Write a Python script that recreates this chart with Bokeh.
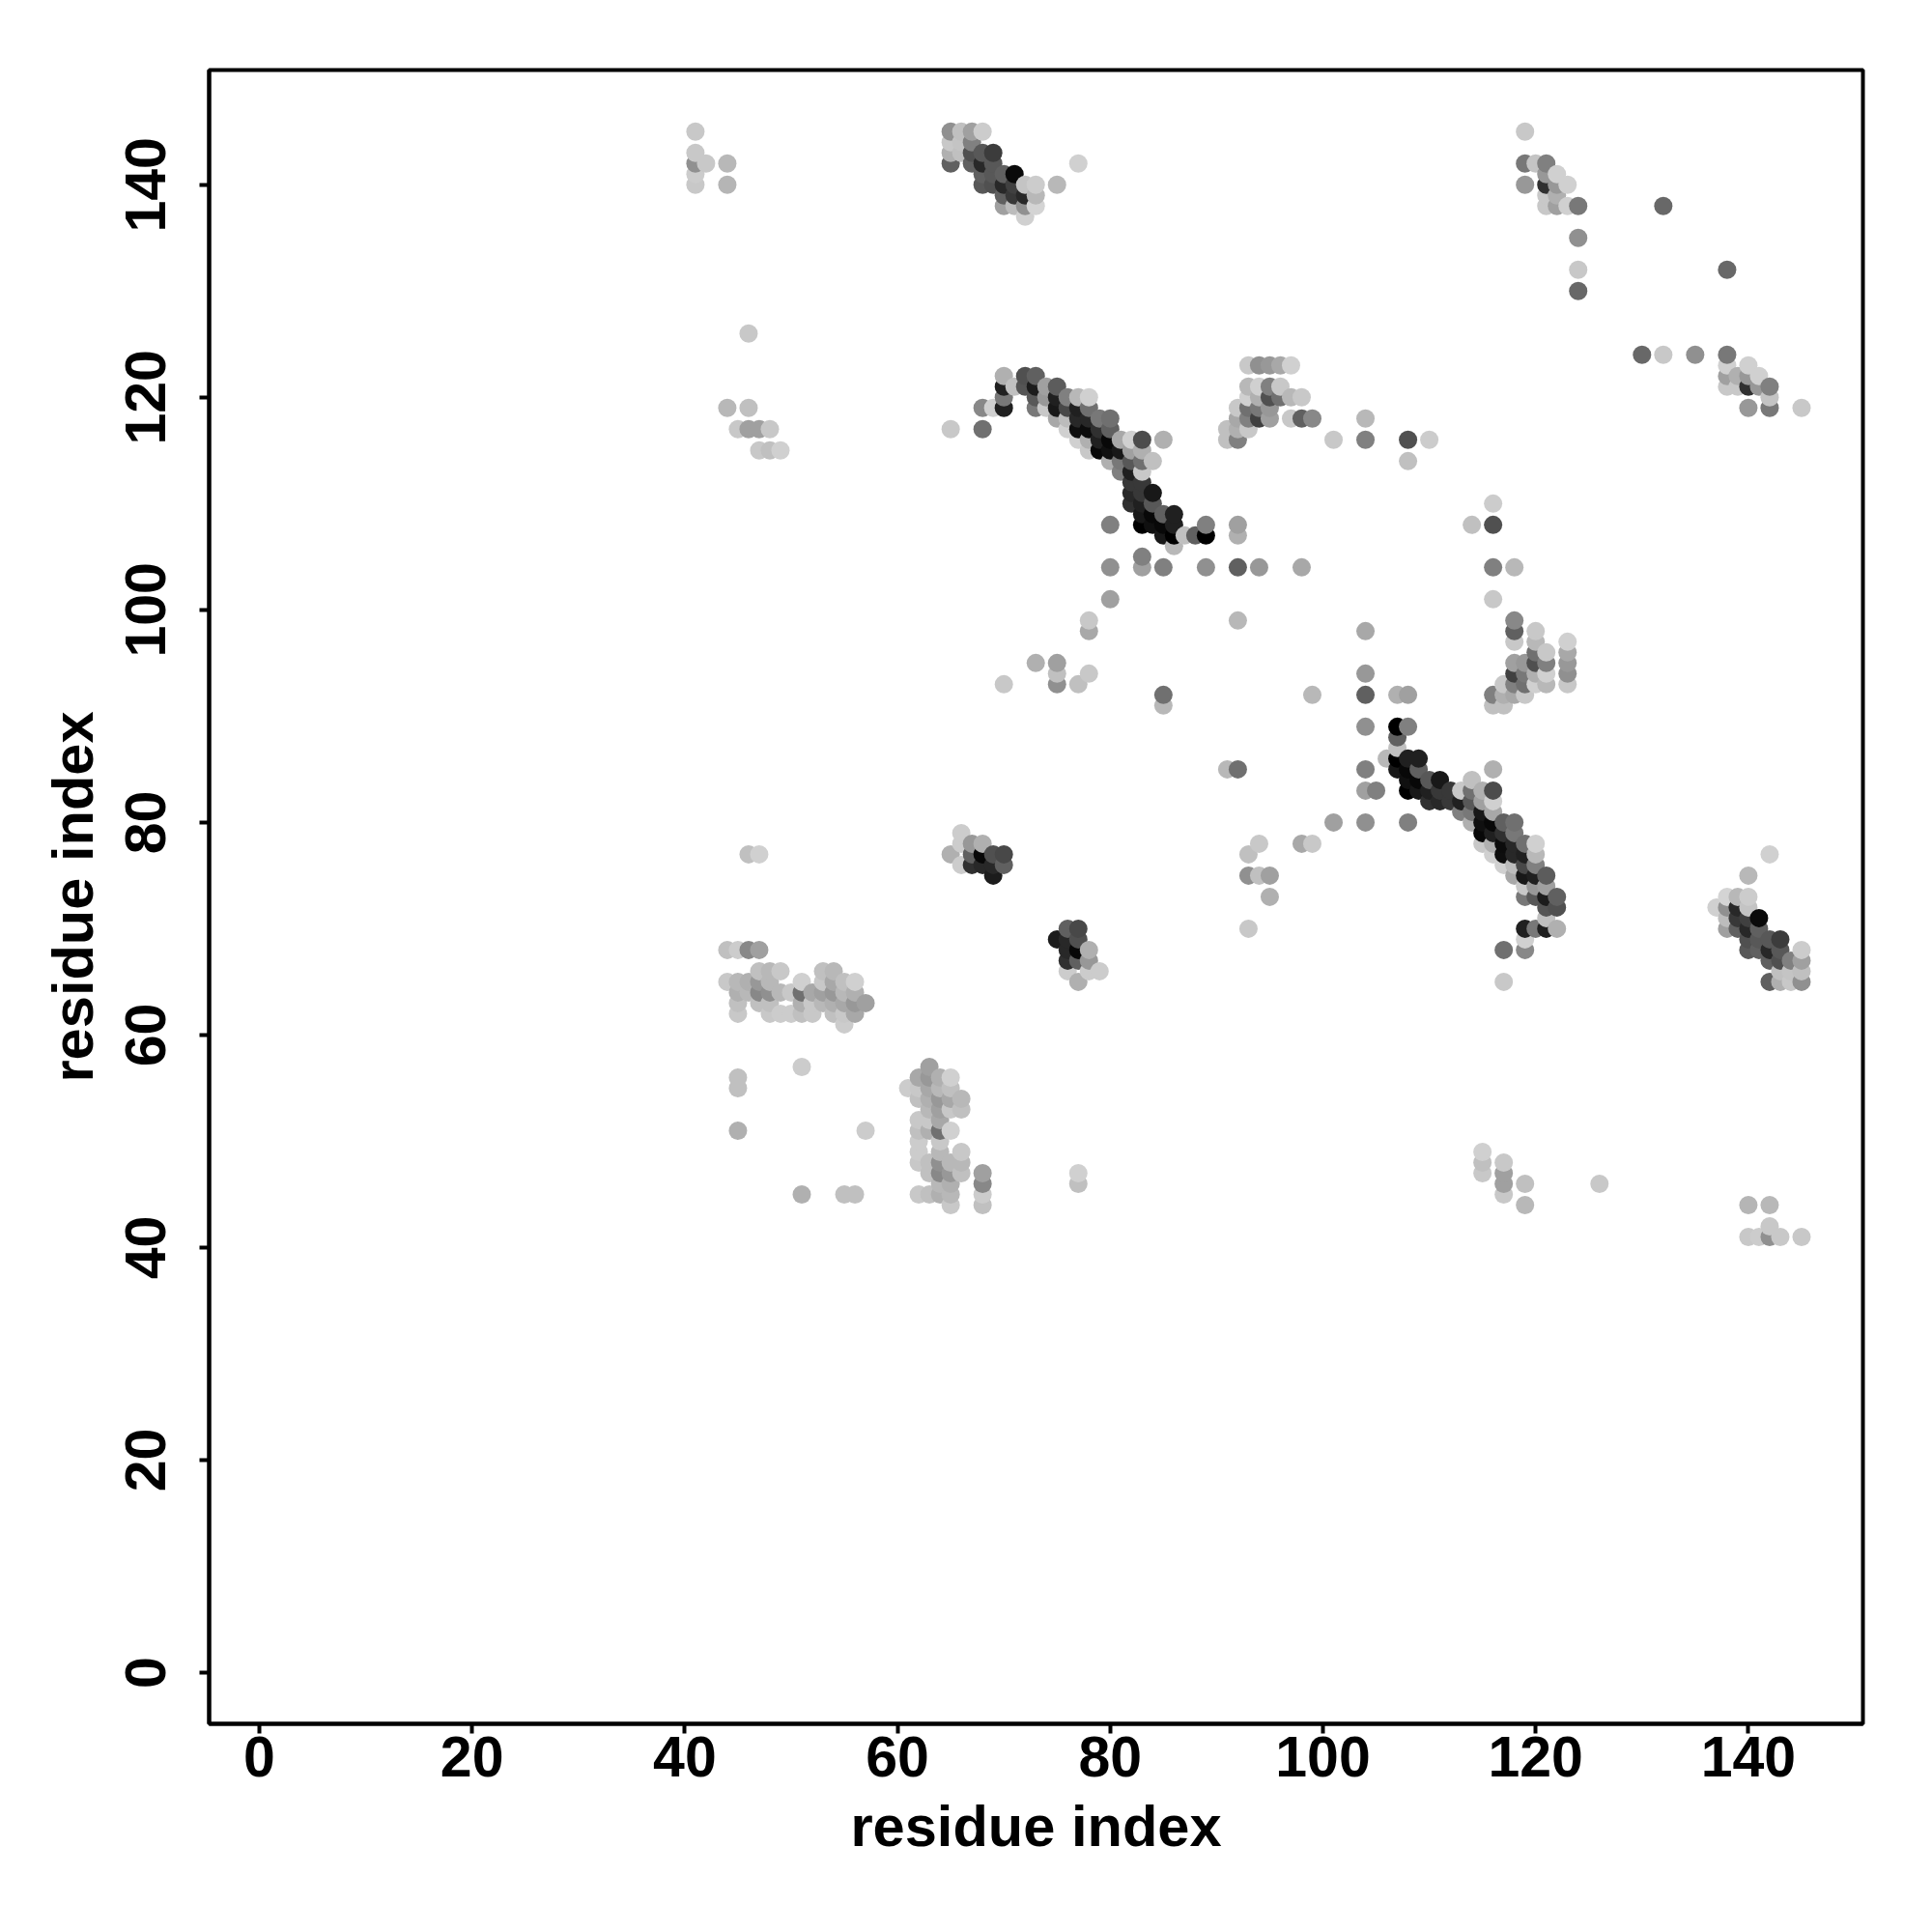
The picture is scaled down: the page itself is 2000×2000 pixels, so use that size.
from bokeh.plotting import figure
from bokeh.embed import file_html
from bokeh.resources import INLINE
from bokeh.models import FixedTicker, Range1d, ColumnDataSource

# Contact map, symmetric: each residue's partners with larger index, and grey level of each contact
residue = [41,42,44,45,46,47,48,49,50,51,52,53,54,55,56,57,
           65,66,67,68,69,70,71,72,73,74,75,76,77,78,79,80,81,82,83,84,85,86,87,88,89,
           91,92,93,94,95,96,97,98,99,101,104,108,110,119,120,121,122,123,124,132]
partners = [
 [140,141,142,143,145],[142],[65,68,119,140,142],[51,55,56,62,63,64,65,68,117],
 [64,65,68,77,117,119,126],[63,64,65,66,68,77,115,117],[62,63,64,65,66,115,117],[62,64,66,115],
 [62,64],[57,62,63,64,65],[62,63,64],[63,64,65,66],[62,63,64,65,66],[61,62,63,64,65],[62,63,64,65],[63],
 [77,117,142,143,144,145],[76,78,79,143,144,145],[76,77,78,142,143,144,145],
 [76,77,78,117,119,140,141,142,143,145],[75,76,77,119,140,141,142,143],
 [76,77,93,119,120,121,122,138,139,140,141],[121,138,139,140,141],[121,122,137,138,139,140],
 [95,119,120,121,122,138,139,140],[119,120,121],[93,94,95,118,119,120,121,140],[117,118,119,120],
 [93,116,117,118,119,120,142],[94,98,99,115,116,117,118,119,120],[115,116,117,118],
 [101,104,108,114,115,116,117,118],[113,114,115,116],[110,111,112,113,114,115,116],
 [104,105,108,109,110,111,112,113,114,115,116],[108,109,110,111,114],[91,92,104,107,108,109,116],
 [106,107,108,109],[107],[107],[104,107,108],
 [116,117],[99,104,107,108,116,117,118,119],[117,118,119,120,121,123],[104,118,119,120,121,123],
 [118,119,120,121,123],[120,121,123],[118,120,123],[104,118,120],[118],[116],[116,118],[114,116],[116],
 [140,142,145],[142],[138,139,140,141,142],[138,139,140,141],[138,140],[130,132,135,138],[138],
]
greys = [
 [0xc8,0xcc,0x90,0xc8,0xc8],[0xc8],[0xc8,0xc0,0xb8,0xb5,0xb8],[0xb0,0xc0,0xc0,0xc8,0xc0,0xb0,0xb8,0xcc,0xc8],
 [0xb8,0xb0,0x88,0xc0,0xa0,0xc0,0xc8],[0xc0,0x88,0x98,0xc0,0xa0,0xd0,0xc8,0xa0],[0xc8,0xc0,0x90,0xb8,0xb8,0xc0,0xc8],[0xcc,0xb8,0xc8,0xd0],
 [0xcc,0xc8],[0xcc,0xc0,0xb0,0x70,0xd0],[0xc8,0xc8,0xa8],[0xb8,0xa0,0xc8,0xc0],[0xc0,0xb0,0x98,0xa8,0xb8],[0xcc,0xc8,0xa8,0xb8,0xc0],[0xa8,0x98,0xb0,0xd0],[0xa0],
 [0xb0,0xc8,0x60,0xb0,0xc8,0x90],[0xcc,0xcc,0xcc,0xc0,0xc4,0xc0],[0x30,0x60,0x98,0x60,0x50,0x80,0xa0],
 [0x28,0x08,0xb0,0x70,0x88,0x58,0x60,0x28,0x58,0xcc],[0x1c,0x28,0x50,0xd0,0x50,0x58,0x58,0x3c],
 [0x60,0x48,0xc8,0x20,0x78,0x20,0xb0,0xa0,0x60,0x28,0x60],[0xc0,0xbc,0x38,0x40,0x0a],[0x55,0x50,0xd0,0x90,0x28,0xc4],
 [0xb0,0x78,0x58,0x1c,0x60,0xd4,0xb8,0xcc],[0xc8,0x98,0xa0],[0x90,0xc0,0xa0,0xa8,0x18,0x20,0x5c,0xb8],[0xd0,0xbc,0x48,0x80],
 [0xc0,0xd0,0x0e,0x28,0x20,0xb8,0xd0],[0xc8,0xa8,0xc8,0xc8,0xb0,0x0c,0x28,0x70,0xd0],[0x08,0x20,0x30,0x78],
 [0xa0,0x90,0x80,0xb0,0x10,0x08,0x60,0x70],[0x80,0x78,0x18,0xa8],[0x30,0x28,0x38,0x20,0x58,0xa0,0xd0],
 [0xa0,0x80,0x00,0x18,0x20,0x38,0x38,0xc8,0x70,0xb0,0x4c],[0x10,0x08,0x58,0x18,0xc0],[0xb8,0x70,0x80,0x18,0x08,0x60,0xb0],
 [0xb8,0x00,0x20,0x20],[0xc0],[0x60],[0x90,0x00,0x80],
 [0xc0,0xc0],[0xb8,0x60,0xb0,0xa0,0x80,0xb0,0xa8,0xc8],[0xc8,0x80,0x70,0xd0,0xb8,0xc8],[0x98,0x40,0x78,0xb0,0xd0,0x90],
 [0xa0,0x98,0x50,0x80,0x98],[0x70,0xc8,0xa8],[0xc8,0xb8,0xd0],[0xa8,0x60,0xc8],[0x88],[0xc8],[0x80,0xb8],[0xc0,0x50],[0xcc],
 [0x98,0x78,0xc8],[0xc4],[0xc8,0xc8,0x30,0x98,0x80],[0xa0,0xb0,0x98,0xd0],[0xd0,0xd0],[0x68,0xc8,0x90,0x78],[0x68],
]
tick_values = [0, 20, 40, 60, 80, 100, 120, 140]
axis_title = "residue index"

for r, a, b in zip(residue, partners, greys):
    assert len(a) == len(b), r

points = []
for r, a, b in zip(residue, partners, greys):
    for q, g in zip(a, b):
        points.append((r, q, g))
        points.append((q, r, g))
points.sort()
xs = [t[0] for t in points]
ys = [t[1] for t in points]
cols = ["#%02x%02x%02x" % (t[2], t[2], t[2]) for t in points]
source = ColumnDataSource(dict(x=xs, y=ys, c=cols))

FONT = "Liberation Sans"
p = figure(width=1984, height=1984, output_backend="svg", toolbar_location=None,
           x_range=Range1d(-4.72, 150.77), y_range=Range1d(-4.82, 150.8),
           min_border_left=216, min_border_right=56, min_border_top=72, min_border_bottom=200)
p.scatter("x", "y", source=source, size=19, color="c", line_color=None)
p.grid.visible = False
p.outline_line_color = "black"
p.outline_line_width = 4
p.background_fill_color = "white"
p.border_fill_color = "white"

for ax in (p.xaxis[0], p.yaxis[0]):
    ax.ticker = FixedTicker(ticks=tick_values)
    ax.minor_tick_line_color = None
    ax.major_tick_in = 0
    ax.major_tick_out = 10
    ax.major_tick_line_width = 4
    ax.major_tick_line_color = "black"
    ax.axis_line_width = 4
    ax.axis_line_color = "black"
    ax.major_label_text_font = FONT
    ax.major_label_text_font_style = "bold"
    ax.major_label_text_font_size = "59px"
    ax.major_label_text_color = "black"
    ax.axis_label = axis_title
    ax.axis_label_text_font = FONT
    ax.axis_label_text_font_style = "bold"
    ax.axis_label_text_font_size = "59.6px"
    ax.axis_label_text_color = "black"

p.xaxis[0].major_label_standoff = 3
p.xaxis[0].axis_label_standoff = 15
p.yaxis[0].major_label_orientation = "vertical"
p.yaxis[0].major_label_standoff = 35
p.yaxis[0].axis_label_standoff = 19

open("out.html", "w").write(file_html(p, INLINE))
